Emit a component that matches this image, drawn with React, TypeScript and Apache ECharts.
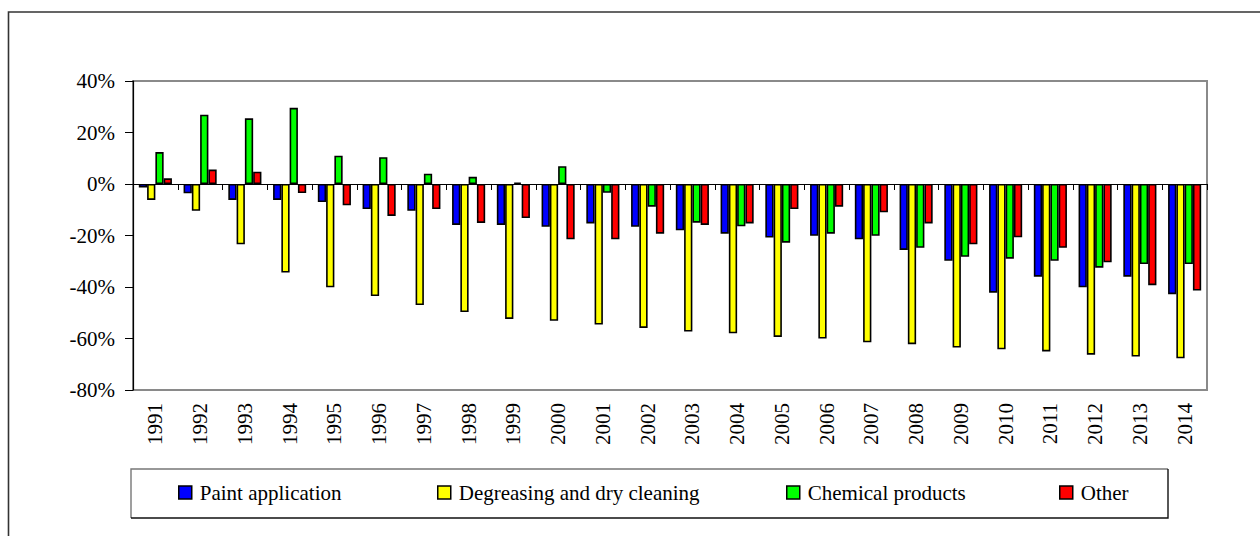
import React, { useEffect, useRef } from "react";
import * as echarts from "echarts";

const years = ["1991","1992","1993","1994","1995","1996","1997","1998","1999","2000","2001","2002","2003","2004","2005","2006","2007","2008","2009","2010","2011","2012","2013","2014"];
const seriesNames = ["Paint application", "Degreasing and dry cleaning", "Chemical products", "Other"];
const seriesColors = ["#0000FF", "#FFFF00", "#00FF00", "#FF0000"];
const paint = [-1.4, -3.6, -6.2, -6.2, -7.0, -9.7, -10.4, -15.9, -15.9, -16.6, -15.3, -16.6, -18.0, -19.3, -20.8, -20.1, -21.5, -25.6, -29.8, -42.2, -36.0, -40.1, -36.0, -42.8];
const degreasing = [-6.2, -10.4, -23.4, -34.4, -40.1, -43.5, -47.0, -49.7, -52.4, -53.1, -54.6, -55.9, -57.3, -58.0, -59.4, -60.0, -61.5, -62.2, -63.5, -64.2, -65.0, -66.3, -67.0, -67.7];
const chemical = [12.4, 26.9, 25.5, 29.6, 11.0, 10.4, 4.0, 2.8, 0.6, 6.9, -3.4, -8.8, -15.0, -16.4, -22.8, -19.3, -20.1, -24.8, -28.3, -29.0, -29.8, -32.5, -31.1, -31.1];
const other = [2.2, 5.6, 4.8, -3.5, -8.3, -12.4, -9.7, -15.1, -13.2, -21.5, -21.5, -19.3, -15.9, -15.3, -9.7, -8.8, -11.0, -15.3, -23.4, -20.7, -24.8, -30.4, -39.3, -41.4];
const yMin = -80;
const yMax = 40;
const yStep = 20;

const FONT = "Liberation Serif";

export default function App() {
  const ref = useRef<HTMLDivElement>(null);
  useEffect(() => {
    if (!ref.current) return;
    const chart = echarts.init(ref.current, null, { renderer: "svg" });
    const allData = [paint, degreasing, chemical, other];
    const legendLefts = [178, 437, 786, 1059];
    chart.setOption({
      animation: false,
      backgroundColor: "#fff",
      textStyle: { fontFamily: FONT, color: "#000" },
      grid: {
        left: 133,
        right: 53,
        top: 81,
        bottom: 146,
        show: true,
        borderColor: "#8a8a8a",
        borderWidth: 2,
        backgroundColor: "transparent",
      },
      legend: seriesNames.map((n, i) => ({
        data: [n],
        left: legendLefts[i],
        top: 482,
        padding: 0,
        itemWidth: 13,
        itemHeight: 13,
        icon: "rect",
        itemStyle: { borderColor: "#000", borderWidth: 1.5 },
        textStyle: { fontFamily: FONT, fontSize: 21, color: "#000", padding: [0, 0, 0, 3] },
        selectedMode: false,
      })),
      xAxis: [
        {
          type: "category",
          data: years,
          position: "bottom",
          axisLine: { onZero: false, show: false },
          axisTick: { show: false },
          axisLabel: {
            rotate: 90,
            fontFamily: FONT,
            fontSize: 21,
            color: "#000",
            margin: 13,
            interval: 0,
          },
          splitLine: { show: false },
        },
        {
          type: "category",
          data: years,
          position: "top",
          axisLine: { onZero: true, show: true, lineStyle: { color: "#000", width: 1 } },
          axisTick: { show: true, inside: true, length: 6, lineStyle: { color: "#000" } },
          axisLabel: { show: false },
          splitLine: { show: false },
        },
      ],
      yAxis: {
        type: "value",
        min: yMin,
        max: yMax,
        interval: yStep,
        axisLine: { show: true, lineStyle: { color: "#000", width: 1.2 } },
        axisTick: { show: true, length: 8, lineStyle: { color: "#000" } },
        axisLabel: {
          formatter: "{value}%",
          fontFamily: FONT,
          fontSize: 21,
          color: "#000",
          margin: 18,
        },
        splitLine: { show: false },
      },
      series: seriesNames.map((n, i) => ({
        name: n,
        type: "bar",
        xAxisIndex: 0,
        data: allData[i],
        barGap: "0%",
        barCategoryGap: "26%",
        itemStyle: { color: seriesColors[i], borderColor: "#000", borderWidth: 1.6 },
      })),
      graphic: [
        {
          type: "polyline",
          shape: { points: [[8.5, 600], [8.5, 12], [1300, 12]] },
          style: { stroke: "#333", lineWidth: 1.6, fill: "none" },
          silent: true,
        },
        {
          type: "polyline",
          shape: { points: [[131, 518], [131, 469], [1168, 469]] },
          style: { stroke: "#777", lineWidth: 1.4, fill: "none" },
          silent: true,
        },
        {
          type: "polyline",
          shape: { points: [[131, 518], [1168, 518], [1168, 469]] },
          style: { stroke: "#111", lineWidth: 1.4, fill: "none" },
          silent: true,
        },
      ],
    });
    return () => chart.dispose();
  }, []);
  return (
    <div
      ref={ref}
      style={{ position: "fixed", left: 0, top: 0, width: 1260, height: 536 }}
    />
  );
}
